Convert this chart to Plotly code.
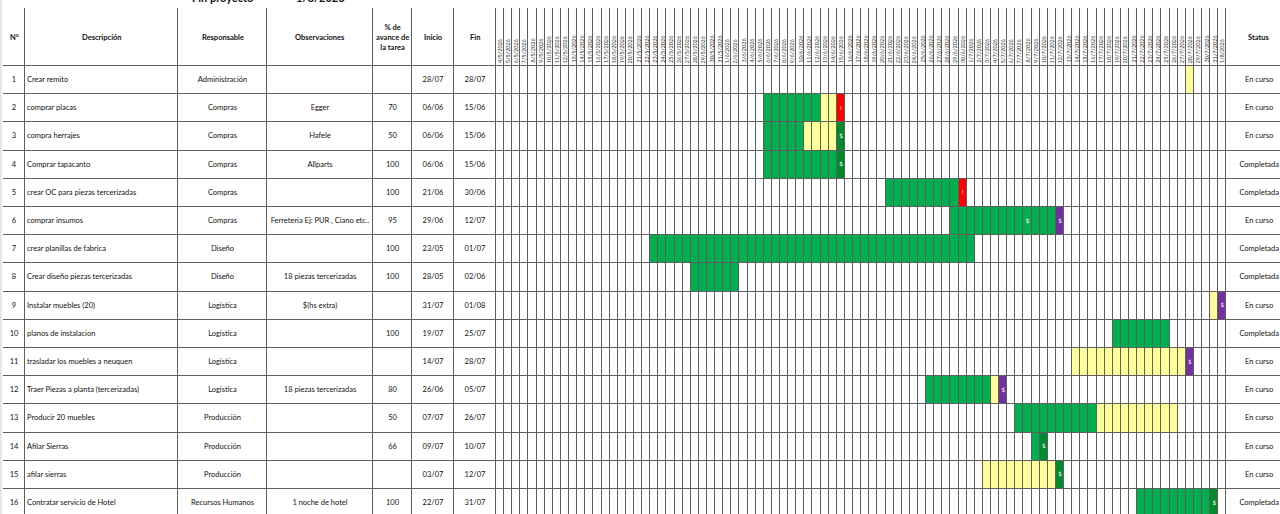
import plotly.graph_objects as go
import pandas as pd

# ---------------- data ----------------
anio = 2026
inicio_gantt = "2026-05-04"
fin_gantt = "2026-08-01"
titulo_label = "Fin proyecto"
titulo_valor = "1/8/2026"

numeros = [str(n) for n in range(1, 17)]
descripciones = ["Crear remito", "comprar placas", "compra herrajes", "Comprar tapacanto",
                 "crear OC para piezas tercerizadas", "comprar insumos", "crear planillas de fabrica",
                 "Crear diseño piezas tercerizadas", "Instalar muebles (20)", "planos de instalacion",
                 "trasladar los muebles a neuquen", "Traer Piezas a planta (tercerizadas)",
                 "Producir 20 muebles", "Afilar Sierras", "afilar sierras", "Contratar servicio de Hotel"]
responsables = ["Administración", "Compras", "Compras", "Compras", "Compras", "Compras", "Diseño", "Diseño",
                "Logística", "Logística", "Logística", "Logística", "Producción", "Producción", "Producción",
                "Recursos Humanos"]
observaciones = ["", "Egger", "Hafele", "Allparts", "", "Ferreteria Ej: PUR , Ciano etc..", "",
                 "18 piezas tercerizadas", "$(hs extra)", "", "", "18 piezas tercerizadas", "", "", "",
                 "1 noche de hotel"]
avance = ["", "70", "50", "100", "100", "95", "100", "100", "", "100", "", "80", "50", "66", "", "100"]
inicio = ["28/07", "06/06", "06/06", "06/06", "21/06", "29/06", "23/05", "28/05", "31/07", "19/07",
          "14/07", "26/06", "07/07", "09/07", "03/07", "22/07"]
fin = ["28/07", "15/06", "15/06", "15/06", "30/06", "12/07", "01/07", "02/06", "01/08", "25/07",
       "28/07", "05/07", "26/07", "10/07", "12/07", "31/07"]
status = ["En curso", "En curso", "En curso", "Completada", "Completada", "En curso", "Completada",
          "Completada", "En curso", "Completada", "En curso", "En curso", "En curso", "En curso",
          "En curso", "Completada"]
# days painted as done (green) from the start; the rest up to the end are pending (yellow)
dias_completados = [0, 7, 5, 9, 9, 13, 40, 6, 0, 7, 0, 8, 10, 1, 0, 9]
# marker drawn in the last day cell
marca_final = ["", "alerta", "pago", "pago", "alerta", "pago_pend", "", "", "pago_pend", "",
               "pago_pend", "pago_pend", "", "pago", "pago", "pago"]
# extra "$" inside a green cell: (row index, date)
marcas_extra = [(5, "08/07")]

encabezados = ["N°", "Descripción", "Responsable", "Observaciones", "% de<br>avance de<br>la tarea",
               "Inicio", "Fin"]
encabezado_status = "Status"

# ---------------- style / layout ----------------
W, H = 1280, 514
FONT = "Lato"
col_edges_fixed = [3, 25, 178, 267, 373, 412, 454, 496]
day_w = 8.115
status_right = 1294
header_top, header_bottom, row_h = 8, 66, 28.2
grid_color = "#5e5e5e"
codes = {"": 0, "done": 1, "pending": 2, "alerta": 3, "pago": 4, "pago_pend": 5}
palette = ["#FFFFFF", "#00B050", "#FFFF99", "#FF0000", "#008A2E", "#7030A0"]
marca_txt = {"alerta": "!", "pago": "$", "pago_pend": "$"}

dias = pd.date_range(inicio_gantt, fin_gantt, freq="D")
n_fixed = len(col_edges_fixed) - 1
x_edges = list(col_edges_fixed) + [col_edges_fixed[-1] + (j + 1) * day_w for j in range(len(dias))] + [status_right]
n_rows = len(descripciones)
y_edges = [header_top, header_bottom] + [header_bottom + (r + 1) * row_h for r in range(n_rows)]
xc = [(x_edges[i] + x_edges[i + 1]) / 2 for i in range(len(x_edges) - 1)]
yc = [(y_edges[i] + y_edges[i + 1]) / 2 for i in range(len(y_edges) - 1)]


def to_date(s):
    return pd.Timestamp(year=anio, month=int(s[3:5]), day=int(s[:2]))


ncols = len(x_edges) - 1
z = [[0] * ncols for _ in range(n_rows + 1)]
marks_x, marks_y, marks_t = [], [], []
for i in range(n_rows):
    d0, d1 = to_date(inicio[i]), to_date(fin[i])
    for k, d in enumerate(pd.date_range(d0, d1, freq="D")):
        col = n_fixed + dias.get_loc(d)
        if marca_final[i] and d == d1:
            z[i + 1][col] = codes[marca_final[i]]
            marks_x.append(xc[col]); marks_y.append(yc[i + 1]); marks_t.append(marca_txt[marca_final[i]])
        elif k < dias_completados[i]:
            z[i + 1][col] = codes["done"]
        else:
            z[i + 1][col] = codes["pending"]
for (r, ds) in marcas_extra:
    col = n_fixed + dias.get_loc(to_date(ds))
    marks_x.append(xc[col]); marks_y.append(yc[r + 1]); marks_t.append("$")

nc = len(palette) - 1
colorscale = [[i / nc, c] for i, c in enumerate(palette)]

fig = go.Figure()
fig.add_trace(go.Heatmap(x=x_edges, y=y_edges, z=z, colorscale=colorscale, zmin=0, zmax=nc,
                         showscale=False, xgap=1, ygap=1, hoverinfo="skip"))

row_y = yc[1:]
body_font = dict(family=FONT, size=7.5, color="#111111")


def add_col(texts, x, pos="middle center"):
    fig.add_trace(go.Scatter(x=[x] * len(texts), y=row_y, text=texts, mode="text",
                             textposition=pos, textfont=body_font, hoverinfo="skip", showlegend=False))


add_col(numeros, xc[0])
add_col(descripciones, col_edges_fixed[1] + 2, "middle right")
add_col(responsables, xc[2])
add_col(observaciones, xc[3])
add_col(avance, xc[4])
add_col(inicio, xc[5])
add_col(fin, xc[6])
add_col(status, xc[-1] - 1)

fig.add_trace(go.Scatter(x=marks_x, y=marks_y, text=marks_t, mode="text",
                         textfont=dict(family=FONT, size=6, color="white"), hoverinfo="skip",
                         showlegend=False))

annotations = []
for i, t in enumerate(encabezados):
    annotations.append(dict(x=xc[i], y=yc[0], text="<b>" + t + "</b>", showarrow=False,
                            font=dict(family=FONT, size=7.5, color="#111111"), xref="x", yref="y"))
annotations.append(dict(x=xc[-1] - 1, y=yc[0], text="<b>" + encabezado_status + "</b>", showarrow=False,
                        font=dict(family=FONT, size=7.5, color="#111111"), xref="x", yref="y"))
for j, d in enumerate(dias):
    annotations.append(dict(x=xc[n_fixed + j], y=header_bottom - 2, text=f"{d.day}/{d.month}/{d.year}",
                            textangle=-90, showarrow=False, yanchor="bottom", borderpad=0,
                            font=dict(family=FONT, size=5.5, color="#333333"), xref="x", yref="y"))
annotations.append(dict(x=xc[2], y=6, text="<b>" + titulo_label + "</b>", showarrow=False, yanchor="bottom",
                        font=dict(family=FONT, size=11, color="#111111"), xref="x", yref="y"))
annotations.append(dict(x=xc[3], y=6, text="<b>" + titulo_valor + "</b>", showarrow=False, yanchor="bottom",
                        font=dict(family=FONT, size=11, color="#111111"), xref="x", yref="y"))

shapes = [
    dict(type="rect", x0=x_edges[0], x1=x_edges[-1], y0=y_edges[0], y1=y_edges[-1], xref="x", yref="y",
         fillcolor=grid_color, line=dict(width=0), layer="below"),
    dict(type="rect", x0=0, x1=x_edges[0] - 1, y0=0, y1=H, xref="x", yref="y",
         fillcolor="#e6e6e6", line=dict(width=0), layer="below"),
]

fig.update_layout(
    width=W, height=H, margin=dict(l=0, r=0, t=0, b=0),
    paper_bgcolor="white", plot_bgcolor="white",
    xaxis=dict(range=[0, W], visible=False, fixedrange=True),
    yaxis=dict(range=[H, 0], visible=False, fixedrange=True),
    annotations=annotations, shapes=shapes, showlegend=False,
)
fig.write_html("out.html", config={"displayModeBar": False},
               post_script="document.body.style.margin='0';document.body.style.overflow='hidden';")
